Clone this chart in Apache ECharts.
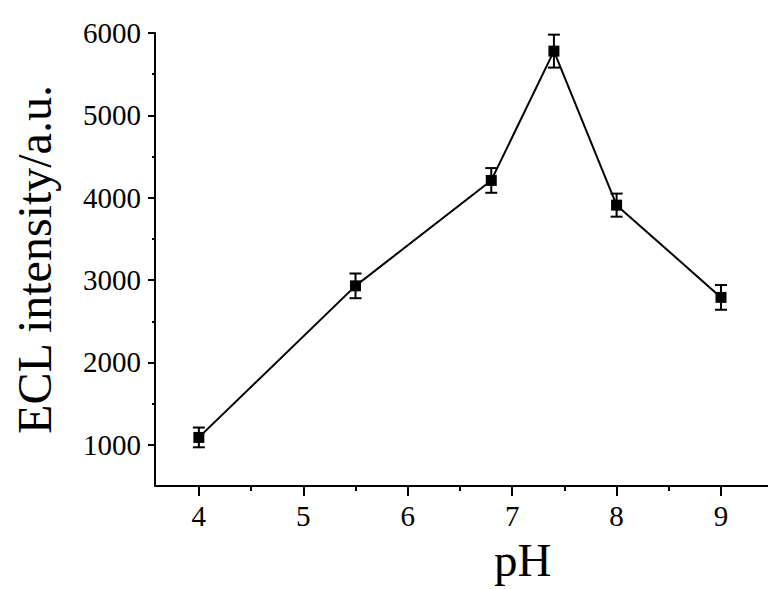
<!DOCTYPE html>
<html>
<head>
<meta charset="utf-8">
<script src="https://cdn.jsdelivr.net/npm/echarts@6/dist/echarts.min.js"></script>
<style>
html,body{margin:0;padding:0;background:#fff;}
#chart{width:768px;height:590px;}
</style>
</head>
<body>
<div id="chart"></div>
<script>
const phValues = [4, 5.5, 6.8, 7.4, 8, 9];
const intensity = [1090, 2930, 4210, 5780, 3910, 2790];
const errors = [120, 150, 150, 200, 140, 150];
const xMajorTicks = [4, 5, 6, 7, 8, 9];
const xMinorTicks = [4.5, 5.5, 6.5, 7.5, 8.5];
const yMajorTicks = [1000, 2000, 3000, 4000, 5000, 6000];
const yMinorTicks = [1500, 2500, 3500, 4500, 5500];
const xTitle = 'pH';
const yTitle = 'ECL intensity/a.u.';

const FONT = 'Liberation Serif';
const chart = echarts.init(document.getElementById('chart'), null, {renderer: 'svg'});

const lineData = phValues.map((x, i) => [x, intensity[i]]);
const errData = phValues.map((x, i) => [x, intensity[i] - errors[i], intensity[i] + errors[i]]);

const axisLineStyle = {color: '#000', width: 2};

chart.setOption({
  animation: false,
  backgroundColor: '#fff',
  grid: {left: 155, top: 33, right: 0, bottom: 104, containLabel: false},
  xAxis: [
    {
      type: 'value', min: 3.58, max: 9.45,
      axisLine: {show: true, lineStyle: axisLineStyle},
      axisTick: {show: true, customValues: xMajorTicks, length: 10, inside: false, lineStyle: {color: '#000', width: 2}},
      axisLabel: {show: true, customValues: xMajorTicks, color: '#000', fontFamily: FONT, fontSize: 29, margin: 15,
        formatter: v => String(v)},
      splitLine: {show: false}
    },
    {
      type: 'value', min: 3.58, max: 9.45, position: 'bottom',
      axisLine: {show: false},
      axisTick: {show: true, customValues: xMinorTicks, length: 5, lineStyle: {color: '#000', width: 2}},
      axisLabel: {show: false},
      splitLine: {show: false}
    }
  ],
  yAxis: [
    {
      type: 'value', min: 500, max: 6000,
      name: yTitle, nameLocation: 'middle', nameGap: 97,
      nameTextStyle: {color: '#000', fontFamily: FONT, fontSize: 48},
      axisLine: {show: true, lineStyle: axisLineStyle},
      axisTick: {show: true, customValues: yMajorTicks, length: 7, lineStyle: {color: '#000', width: 2}},
      axisLabel: {show: true, customValues: yMajorTicks, color: '#000', fontFamily: FONT, fontSize: 29, margin: 14,
        formatter: v => String(v)},
      splitLine: {show: false}
    },
    {
      type: 'value', min: 500, max: 6000, position: 'left',
      axisLine: {show: false},
      axisTick: {show: true, customValues: yMinorTicks, length: 3, lineStyle: {color: '#000', width: 2}},
      axisLabel: {show: false},
      splitLine: {show: false}
    }
  ],
  graphic: [
    {
      type: 'text', left: 494, top: 536,
      style: {text: xTitle, fill: '#000', font: '47px ' + FONT}
    }
  ],
  series: [
    {
      type: 'line', data: lineData, xAxisIndex: 0, yAxisIndex: 0,
      symbol: 'rect', symbolSize: 11,
      lineStyle: {color: '#000', width: 2},
      itemStyle: {color: '#000'},
      z: 3
    },
    {
      type: 'custom', data: errData, xAxisIndex: 0, yAxisIndex: 0, z: 4,
      renderItem: function (params, api) {
        const x = api.value(0);
        const lo = api.coord([x, api.value(1)]);
        const hi = api.coord([x, api.value(2)]);
        const w = 6;
        const st = {stroke: '#000', lineWidth: 2, fill: 'none'};
        return {
          type: 'group',
          children: [
            {type: 'line', shape: {x1: hi[0], y1: hi[1], x2: lo[0], y2: lo[1]}, style: st},
            {type: 'line', shape: {x1: hi[0] - w, y1: hi[1], x2: hi[0] + w, y2: hi[1]}, style: st},
            {type: 'line', shape: {x1: lo[0] - w, y1: lo[1], x2: lo[0] + w, y2: lo[1]}, style: st}
          ]
        };
      }
    }
  ]
});
</script>
</body>
</html>
